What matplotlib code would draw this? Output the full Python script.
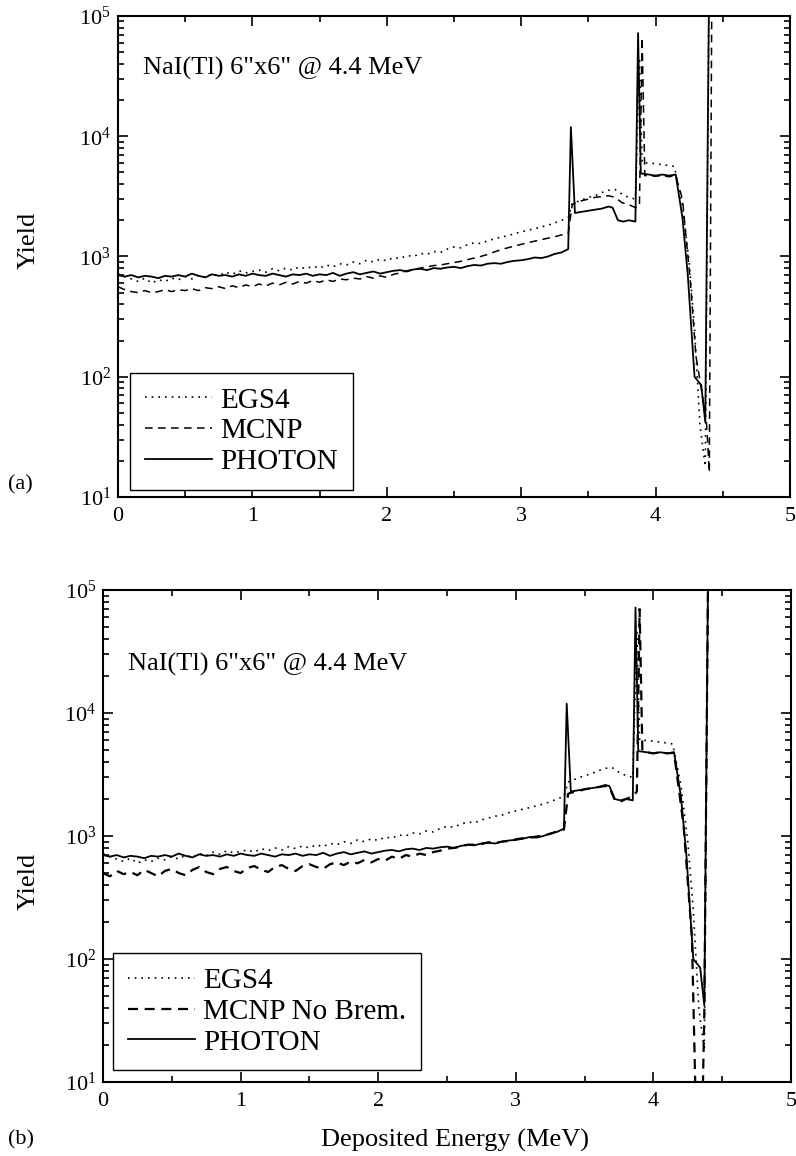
import matplotlib
matplotlib.use("Agg")
import matplotlib.pyplot as plt
from matplotlib.ticker import LogLocator, MultipleLocator, NullFormatter

plt.rcParams["font.family"] = ["Liberation Serif", "DejaVu Serif"]
plt.rcParams["mathtext.fontset"] = "stix"

# energy grid of the smooth (Compton) part, MeV
E_LOW = [0.00, 0.05, 0.10, 0.15, 0.20, 0.25, 0.30, 0.35, 0.40, 0.45,
         0.50, 0.55, 0.60, 0.65, 0.70, 0.75, 0.80, 0.85, 0.90, 0.95,
         1.00, 1.05, 1.10, 1.15, 1.20, 1.25, 1.30, 1.35, 1.40, 1.45,
         1.50, 1.55, 1.60, 1.65, 1.70, 1.75, 1.80, 1.85, 1.90, 1.95,
         2.00, 2.05, 2.10, 2.15, 2.20, 2.25, 2.30, 2.35, 2.40, 2.45,
         2.50, 2.55, 2.60, 2.65, 2.70, 2.75, 2.80, 2.85, 2.90, 2.95,
         3.00, 3.05, 3.10, 3.15, 3.20, 3.25, 3.30]

PHOTON_LOW = [700, 680, 700, 670, 690, 680, 660, 690, 680, 700,
              680, 720, 690, 670, 710, 690, 700, 680, 710, 690,
              720, 700, 690, 720, 700, 680, 710, 700, 720, 690,
              710, 700, 730, 690, 720, 740, 710, 730, 750, 720,
              740, 760, 770, 750, 780, 790, 770, 800, 790, 810,
              820, 800, 830, 850, 840, 870, 880, 870, 900, 920,
              930, 950, 980, 970, 1000, 1050, 1080]
PHOTON_TAIL_E = [3.35, 3.37, 3.40, 3.45, 3.50, 3.55, 3.60, 3.65, 3.68, 3.72,
                 3.76, 3.80, 3.85, 3.87, 3.89, 3.95, 4.00, 4.05, 4.10, 4.15,
                 4.20, 4.24, 4.29, 4.34, 4.37, 4.40]
PHOTON_TAIL_Y = [1150, 11900, 2300, 2350, 2400, 2450, 2500, 2600, 2550, 2000,
                 1950, 2000, 1950, 72000, 4900, 4800, 4700, 4800, 4700, 4800,
                 2100, 700, 100, 85, 42, 300000]

EGS4_LOW = [720, 680, 650, 620, 660, 600, 640, 620, 660, 640,
            680, 650, 700, 670, 720, 690, 740, 710, 760, 730,
            750, 770, 740, 790, 760, 800, 770, 820, 790, 830,
            800, 850, 820, 870, 850, 900, 870, 930, 900, 950,
            920, 980, 960, 1020, 1000, 1060, 1040, 1100, 1080, 1150,
            1200, 1180, 1250, 1300, 1280, 1350, 1400, 1450, 1480, 1550,
            1600, 1650, 1700, 1760, 1820, 1900, 2000]
EGS4_TAIL_E = [3.35, 3.38, 3.45, 3.50, 3.55, 3.60, 3.65, 3.70, 3.75, 3.80,
               3.85, 3.88, 3.90, 3.95, 4.00, 4.05, 4.10, 4.14, 4.20, 4.25,
               4.29, 4.33, 4.37, 4.40]
EGS4_TAIL_Y = [2100, 2750, 2950, 3100, 3200, 3400, 3550, 3600, 3300, 3100,
               3000, 45000, 6000, 6000, 5900, 5800, 5700, 5600, 2600, 900,
               250, 40, 18, 300000]

MCNP_LOW = [560, 530, 510, 500, 520, 500, 510, 530, 510, 530,
            520, 540, 520, 550, 540, 560, 540, 570, 550, 580,
            560, 590, 570, 600, 580, 610, 590, 620, 600, 630,
            610, 640, 620, 650, 640, 660, 650, 680, 660, 690,
            670, 710, 730, 760, 780, 800, 820, 840, 850, 870,
            890, 910, 940, 970, 1000, 1040, 1090, 1140, 1180, 1220,
            1260, 1300, 1340, 1380, 1420, 1460, 1510]
MCNP_TAIL_E = [3.35, 3.38, 3.42, 3.50, 3.55, 3.60, 3.65, 3.70, 3.75, 3.80,
               3.85, 3.88, 3.90, 3.92, 3.95, 4.00, 4.05, 4.10, 4.15, 4.20,
               4.26, 4.30, 4.34, 4.38, 4.40, 4.42]
MCNP_TAIL_Y = [1550, 2700, 2850, 3000, 3100, 3150, 3200, 3100, 2800, 2700,
               2550, 2600, 66000, 4700, 4700, 4650, 4700, 4600, 4700, 3000,
               600, 150, 80, 40, 16, 300000]

MCNP_NB_LOW = [500, 470, 520, 490, 510, 480, 530, 500, 470, 520,
               540, 500, 480, 530, 560, 510, 490, 540, 560, 520,
               500, 550, 570, 530, 510, 560, 580, 540, 520, 570,
               590, 560, 540, 590, 610, 580, 620, 600, 640, 610,
               650, 630, 680, 650, 700, 680, 720, 700, 740, 760,
               790, 800, 820, 850, 850, 860, 890, 880, 900, 910,
               940, 960, 970, 990, 1010, 1040, 1090]
MCNP_NB_TAIL_E = [3.35, 3.38, 3.40, 3.45, 3.50, 3.55, 3.60, 3.65, 3.68, 3.72,
                  3.76, 3.80, 3.85, 3.88, 3.90, 3.92, 3.95, 4.00, 4.05, 4.10,
                  4.15, 4.22, 4.28, 4.31, 4.355, 4.37, 4.40]
MCNP_NB_TAIL_Y = [1130, 2200, 2250, 2300, 2400, 2450, 2500, 2550, 2500, 1950,
                  1900, 2000, 2100, 2300, 70000, 4900, 4800, 4700, 4800, 4700,
                  4750, 1200, 150, 5, 5, 35, 300000]

TITLE = "NaI(Tl) 6\"x6\" @ 4.4 MeV"

DOT = (0, (1, 3))
DASH_A = (0, (5, 3.5))
DASH_B = (0, (4.5, 3))


def style(ax):
    ax.set_xlim(0, 5)
    ax.set_yscale("log")
    ax.set_ylim(10, 1e5)
    ax.xaxis.set_major_locator(MultipleLocator(1))
    ax.xaxis.set_minor_locator(MultipleLocator(0.5))
    ax.yaxis.set_major_locator(LogLocator(10, numticks=10))
    ax.yaxis.set_minor_locator(LogLocator(10, subs=range(2, 10), numticks=20))
    ax.yaxis.set_minor_formatter(NullFormatter())
    ax.tick_params(which="both", direction="in", top=True, right=True, width=1.2)
    ax.tick_params(which="major", length=7)
    ax.tick_params(which="minor", length=4)
    ax.tick_params(axis="x", labelsize=16, pad=7)
    ax.tick_params(axis="y", labelsize=16, pad=5)
    for s in ax.spines.values():
        s.set_linewidth(1.5)


def add_legend(ax, anchor):
    leg = ax.legend(loc="lower left", bbox_to_anchor=anchor, fontsize=21,
                    frameon=True, fancybox=False, edgecolor="black",
                    framealpha=1, borderpad=0.5, labelspacing=0.15,
                    handlelength=2.3, handletextpad=0.3, borderaxespad=0)
    leg.get_frame().set_linewidth(1.0)


fig = plt.figure(figsize=(7.96, 11.56), dpi=100)
ax_a = fig.add_axes([0.1482, 0.5701, 0.8442, 0.4161])
ax_b = fig.add_axes([0.1294, 0.0640, 0.8643, 0.4256])

# (a)
ax_a.plot(E_LOW + EGS4_TAIL_E, EGS4_LOW + EGS4_TAIL_Y, color="black",
          lw=1.2, linestyle=DOT, label="EGS4")
ax_a.plot(E_LOW + MCNP_TAIL_E, MCNP_LOW + MCNP_TAIL_Y, color="black",
          lw=1.1, linestyle=DASH_A, label="MCNP")
ax_a.plot(E_LOW + PHOTON_TAIL_E, PHOTON_LOW + PHOTON_TAIL_Y, color="black",
          lw=1.3, label="PHOTON")
style(ax_a)
ax_a.set_ylabel("Yield", fontsize=19)
ax_a.yaxis.set_label_coords(-0.116, 0.534)
ax_a.text(0.037, 0.89, TITLE, transform=ax_a.transAxes, fontsize=19,
          ha="left", va="center")
add_legend(ax_a, (0.018, 0.015))

# (b)
ax_b.plot(E_LOW + EGS4_TAIL_E, EGS4_LOW + EGS4_TAIL_Y, color="black",
          lw=1.2, linestyle=DOT, label="EGS4")
ax_b.plot(E_LOW + MCNP_NB_TAIL_E, MCNP_NB_LOW + MCNP_NB_TAIL_Y, color="black",
          lw=1.6, linestyle=DASH_B, label="MCNP No Brem.")
ax_b.plot(E_LOW + PHOTON_TAIL_E, PHOTON_LOW + PHOTON_TAIL_Y, color="black",
          lw=1.3, label="PHOTON")
style(ax_b)
ax_b.set_ylabel("Yield", fontsize=19)
ax_b.yaxis.set_label_coords(-0.092, 0.407)
ax_b.text(0.036, 0.848, TITLE, transform=ax_b.transAxes, fontsize=19,
          ha="left", va="center")
add_legend(ax_b, (0.0145, 0.024))

fig.text(0.572, 0.0138, "Deposited Energy (MeV)", fontsize=19,
         ha="center", va="center")
fig.text(0.01, 0.5805, "(a)", fontsize=16, ha="left", va="center")
fig.text(0.01, 0.0138, "(b)", fontsize=16, ha="left", va="center")

fig.savefig("out.png", dpi=100)
